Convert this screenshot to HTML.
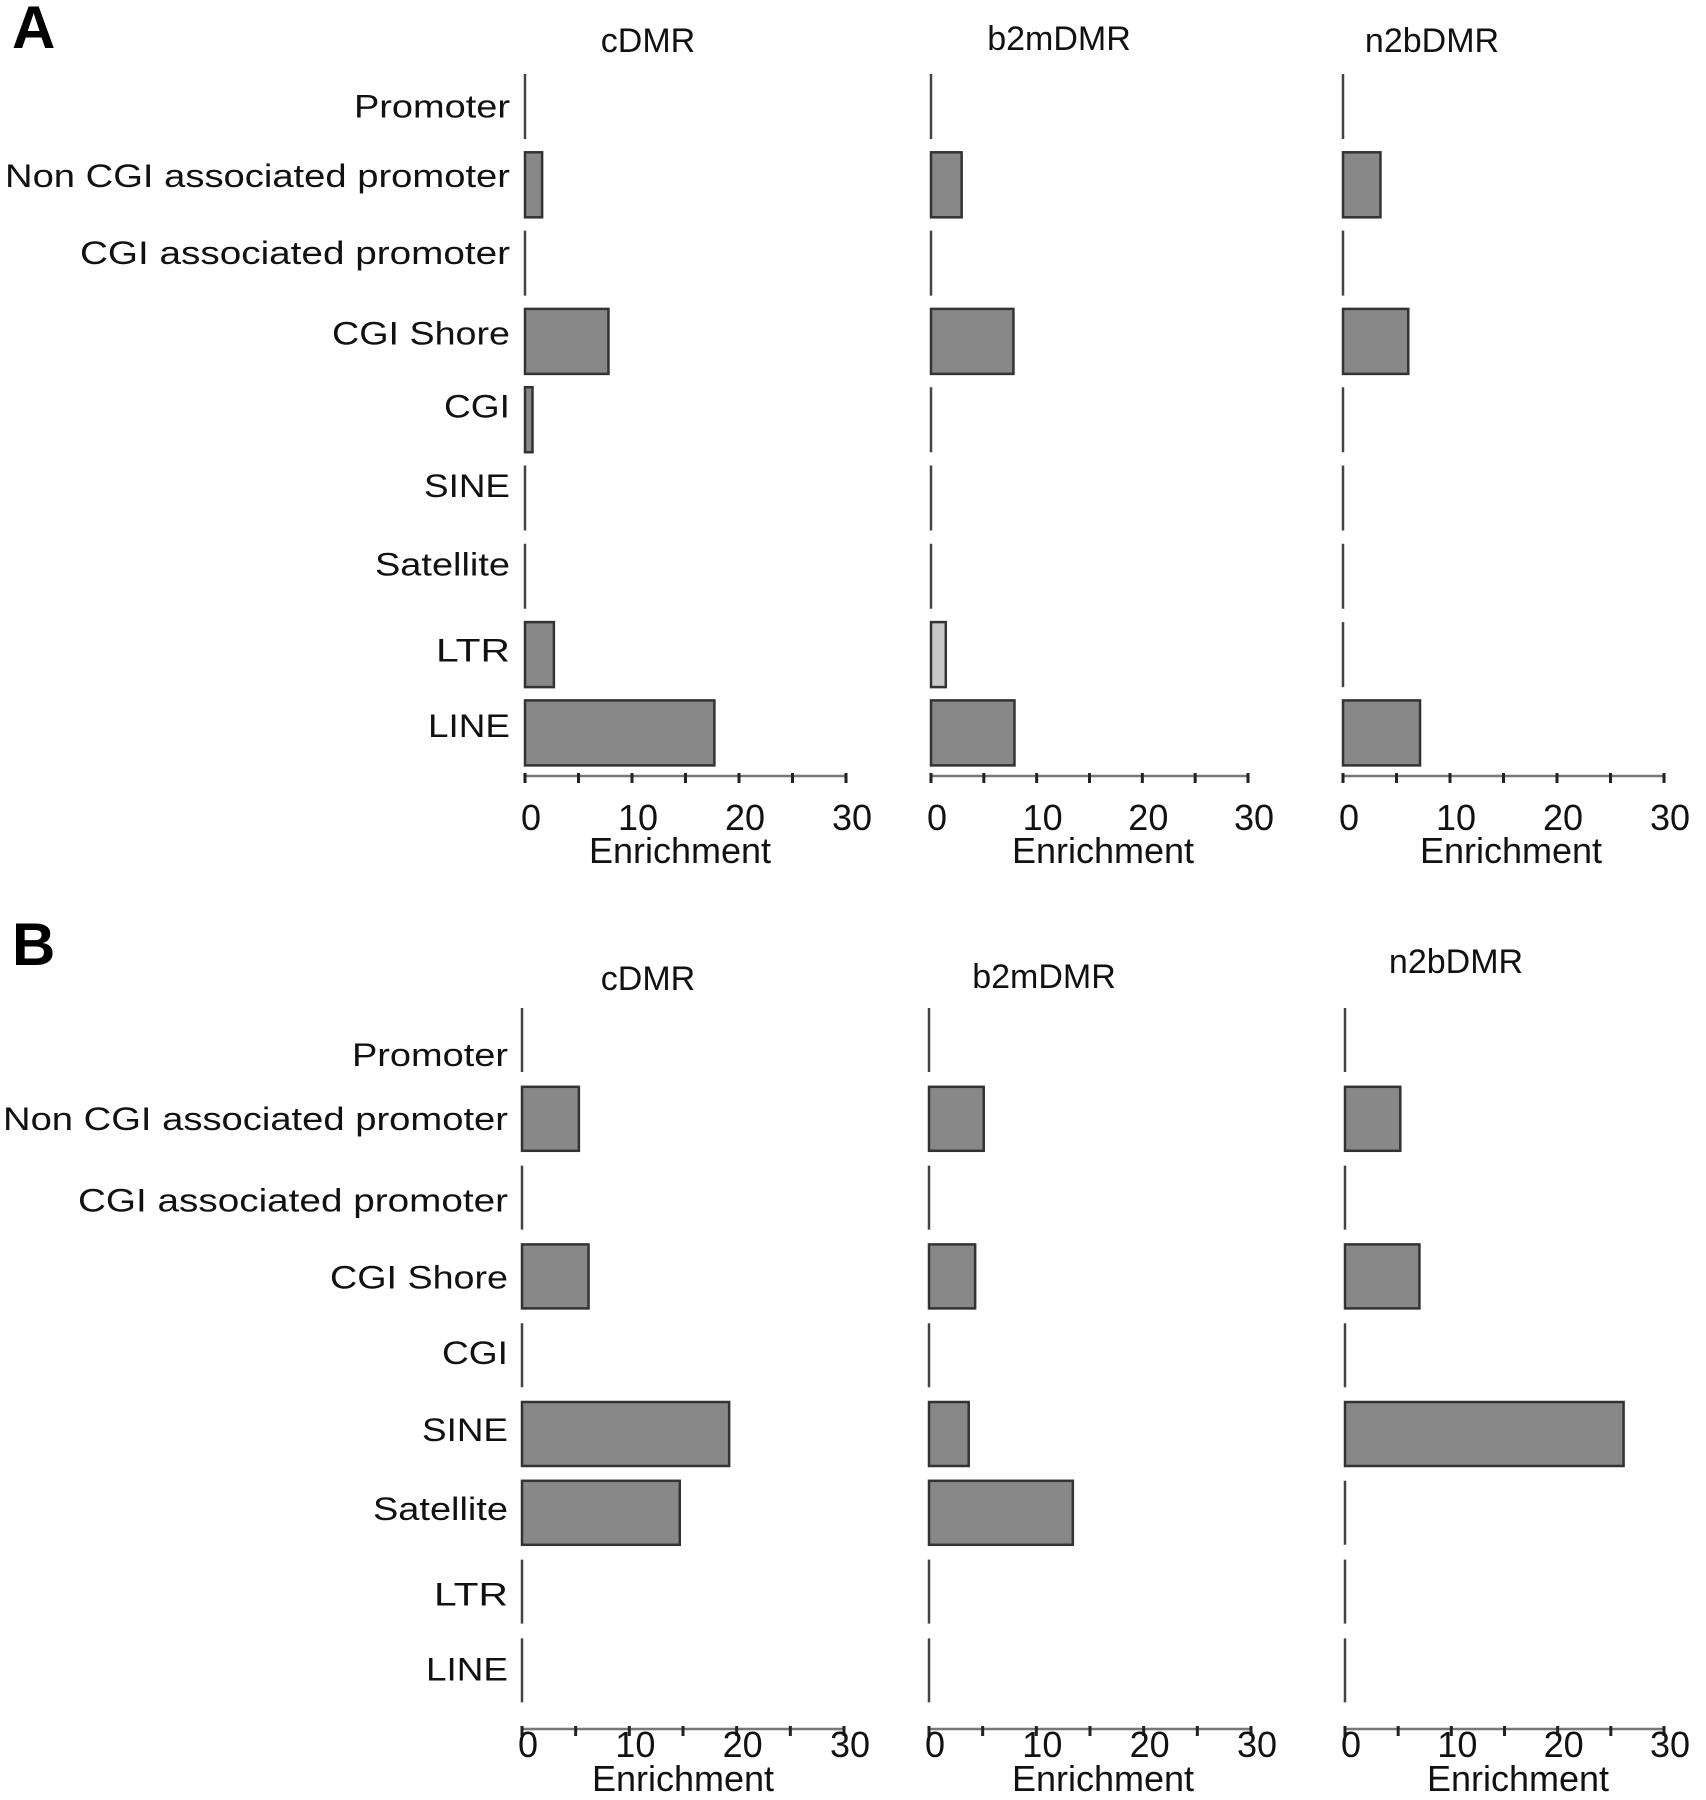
<!DOCTYPE html>
<html><head><meta charset="utf-8"><style>
html,body{margin:0;padding:0;background:#fff;}
svg{display:block;font-family:"Liberation Sans",sans-serif;}
</style></head><body>
<svg id="fig" width="1706" height="1800" viewBox="0 0 1706 1800" xmlns="http://www.w3.org/2000/svg"></svg>
<script>
const categories = ["Promoter","Non CGI associated promoter","CGI associated promoter","CGI Shore","CGI","SINE","Satellite","LTR","LINE"];
const ticks = [0,10,20,30];
const panelTitles = ["cDMR","b2mDMR","n2bDMR"];
const aCDMR = [0,1.6,0,7.8,0.7,0,0,2.7,17.7];
const aB2M  = [0,2.9,0,7.8,0,0,0,1.4,7.9];
const aN2B  = [0,3.5,0,6.1,0,0,0,0,7.2];
const bCDMR = [0,5.3,0,6.2,0,19.3,14.7,0,0];
const bB2M  = [0,5.1,0,4.3,0,3.7,13.4,0,0];
const bN2B  = [0,5.2,0,7.0,0,26.2,0,0,0];

const NS="http://www.w3.org/2000/svg";
const svg=document.getElementById('fig');
function mk(tag,attrs,parent){const e=document.createElementNS(NS,tag);for(const k in attrs)e.setAttribute(k,attrs[k]);(parent||svg).appendChild(e);return e;}

const figs=[
 {letter:"A",ly:48,rowTop:74,pitch:78.3,bh:65,axisY:776,tickY:817,enY:850,
  titleY:[42,40,42],titleX:[648,1059,1432],
  panels:[{x0:525,x1:846,vals:aCDMR},{x0:931,x1:1248,vals:aB2M},{x0:1343,x1:1664,vals:aN2B}],
  enX:[680,1103,1511], labelX:510, lOff:[0,-9,-10,-8,-13,-12,-12,-4,-7]},
 {letter:"B",ly:965,rowTop:1008,pitch:78.8,bh:64,axisY:1729,tickY:1744,enY:1778,
  titleY:[980,978,963],titleX:[648,1044,1456],
  panels:[{x0:522,x1:844,vals:bCDMR},{x0:929,x1:1251,vals:bB2M},{x0:1345,x1:1664,vals:bN2B}],
  enX:[683,1103,1518], labelX:508, lOff:[15,0,3,1,-2,-4,-4,3,-1]}
];
const labelW=[156,505,430,178,66,86,135,74,82];

figs.forEach((f,fi)=>{
  const g=mk('g',{});
  
  
  const L=mk('text',{x:12,y:f.ly,'font-size':60,'font-weight':'bold',fill:'#000'},g);
  
  
  L.textContent=f.letter;
  categories.forEach((c,i)=>{
    const cy=f.rowTop+i*f.pitch+f.bh/2+f.lOff[i];
    const t=mk('text',{x:f.labelX,y:cy+11,'font-size':32,'text-anchor':'end',fill:'#111',textLength:labelW[i],lengthAdjust:'spacingAndGlyphs'},g);
    
    
    t.textContent=c;
  });
  f.panels.forEach((p,pi)=>{
    const sx=v=>p.x0+(v/30)*(p.x1-p.x0);
    const tt=mk('text',{x:f.titleX[pi],y:f.titleY[pi]+10,'font-size':34,'text-anchor':'middle',fill:'#111'},g);
    
    
    tt.textContent=panelTitles[pi];
    p.vals.forEach((v,i)=>{
      const y=f.rowTop+i*f.pitch;
      if(v>0){
        const r=mk('rect',{x:sx(0),y:y,width:sx(v)-sx(0),height:f.bh,fill:(f.letter==='A'&&pi===1&&i===7)?'#c8c8c8':'#888',stroke:'#333','stroke-width':2.5},g);
        
        
      } else {
        const l=mk('line',{x1:sx(0),x2:sx(0),y1:y,y2:y+f.bh,stroke:'#444','stroke-width':2.5},g);
        
        
      }
    });
    const ax=mk('line',{x1:sx(0),x2:sx(30),y1:f.axisY,y2:f.axisY,stroke:'#777','stroke-width':2.5},g);
    
    
    for(let v=0;v<=30;v+=5){
      const tk=mk('line',{x1:sx(v),x2:sx(v),y1:f.axisY-3,y2:f.axisY+7,stroke:'#222','stroke-width':3},g);
      
      
    }
    ticks.forEach(v=>{
      const tl=mk('text',{x:sx(v)+6,y:f.tickY+13,'font-size':36,'text-anchor':'middle',fill:'#111'},g);
      
      
      tl.textContent=v;
    });
    const en=mk('text',{x:f.enX[pi],y:f.enY+13,'font-size':36,'text-anchor':'middle',fill:'#111'},g);
    
    
    en.textContent='Enrichment';
  });
});
</script>
</body></html>
